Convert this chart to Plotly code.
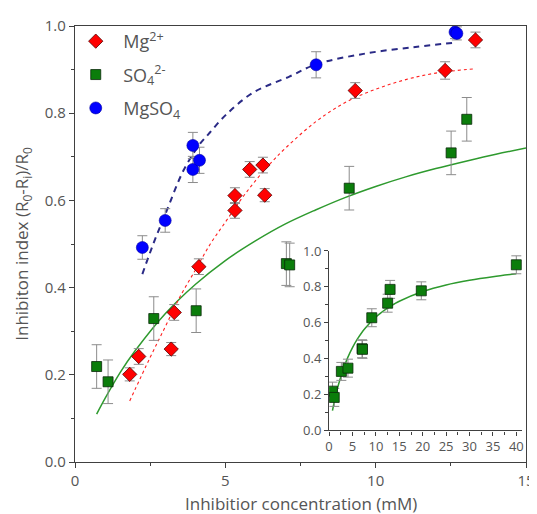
import plotly.graph_objects as go

# ---- data: Mg2+ ----
mg_x = [1.82, 2.12, 3.2, 3.3, 4.12, 5.32, 5.32, 5.81, 6.25, 6.31, 9.32, 12.31, 13.32]
mg_y = [0.201, 0.242, 0.259, 0.343, 0.448, 0.611, 0.577, 0.671, 0.681, 0.612, 0.852, 0.898, 0.968]
mg_err = [0.015, 0.018, 0.015, 0.018, 0.018, 0.018, 0.018, 0.018, 0.018, 0.015, 0.018, 0.02, 0.018]

# ---- data: SO4 2- ----
so4_x = [0.72, 1.1, 2.62, 4.03, 7.03, 7.14, 9.12, 12.51, 13.03]
so4_y = [0.219, 0.184, 0.329, 0.347, 0.455, 0.452, 0.628, 0.709, 0.786]
so4_err = [0.05, 0.05, 0.05, 0.05, 0.05, 0.05, 0.05, 0.05, 0.05]
so4_extra_x = [19.7, 40.0]
so4_extra_y = [0.778, 0.923]
so4_extra_err = [0.05, 0.05]

# ---- data: MgSO4 ----
mgso4_x = [2.24, 3.0, 3.92, 3.92, 4.14, 8.02, 12.64, 12.7]
mgso4_y = [0.492, 0.554, 0.726, 0.671, 0.692, 0.911, 0.986, 0.983]
mgso4_err = [0.027, 0.027, 0.03, 0.03, 0.03, 0.03, 0.015, 0.015]

# ---- fitted curves ----
fit_mg_x = [1.82, 2.5, 3.0, 3.5, 4.0, 4.5, 5.0, 5.5, 6.0, 6.5, 7.0, 8.0, 9.0, 10.0, 11.0, 12.0, 13.32]
fit_mg_y = [0.14, 0.24, 0.31, 0.38, 0.44, 0.50, 0.55, 0.60, 0.645, 0.685, 0.72, 0.78, 0.825, 0.855, 0.877, 0.892, 0.902]

fit_so4_x = [0.72, 1, 1.5, 2, 3, 4, 5, 6, 7, 8, 9, 10, 11, 12, 13, 14, 15]
fit_so4_y = [0.110, 0.146, 0.205, 0.255, 0.340, 0.407, 0.462, 0.507, 0.546, 0.578, 0.607, 0.632, 0.654, 0.673, 0.690, 0.706, 0.720]
fit_so4_extra_x = [20, 25, 30, 35, 40]
fit_so4_extra_y = [0.774, 0.811, 0.837, 0.857, 0.873]

fit_mgso4_x = [2.24, 2.62, 3.06, 3.61, 4.16, 4.44, 5.0, 5.92, 7.13, 8.02, 9.67, 11.32, 12.64]
fit_mgso4_y = [0.431, 0.503, 0.578, 0.669, 0.73, 0.752, 0.795, 0.847, 0.884, 0.912, 0.937, 0.952, 0.962]

# ---- axis ticks / titles ----
main_xticks = [0, 5, 10, 15]
main_yticks = [0.0, 0.2, 0.4, 0.6, 0.8, 1.0]
inset_xticks = [0, 5, 10, 15, 20, 25, 30, 35, 40]
inset_yticks = [0.0, 0.2, 0.4, 0.6, 0.8, 1.0]
x_title = "Inhibitior concentration (mM)"
y_title = "Inhibiton index (R<sub>0</sub>-R<sub>i</sub>)/R<sub>0</sub>"

RED = "#ff0000"
GREEN = "#0b7d0b"
BLUE = "#0000ff"
ERRC = "#8c8c8c"
AXC = "#404040"
TXT = "#555555"
FONT = "Open Sans"

fig = go.Figure()

def err(vals):
    return dict(type="data", array=vals, visible=True, color=ERRC, thickness=1, width=5)

# fit curves (main)
fig.add_trace(go.Scatter(x=fit_so4_x, y=fit_so4_y, mode="lines", line=dict(color="#2e9a2e", width=1.5, shape="spline"), showlegend=False, hoverinfo="skip"))
fig.add_trace(go.Scatter(x=fit_mg_x, y=fit_mg_y, mode="lines", line=dict(color="#ff2020", width=1.1, dash="dot", shape="spline"), showlegend=False, hoverinfo="skip"))
fig.add_trace(go.Scatter(x=fit_mgso4_x, y=fit_mgso4_y, mode="lines", line=dict(color="#2a2a86", width=2, dash="6px,5px", shape="spline"), showlegend=False, hoverinfo="skip"))

# markers (main)
fig.add_trace(go.Scatter(x=mg_x, y=mg_y, error_y=err(mg_err), mode="markers", name="Mg<sup>2+</sup>", legendgroup="a",
                         marker=dict(symbol="diamond", size=11, color=RED, line=dict(color="#550000", width=0.8))))
fig.add_trace(go.Scatter(x=so4_x, y=so4_y, error_y=err(so4_err), mode="markers", name="SO<sub>4</sub><sup>2-</sup>", legendgroup="b",
                         marker=dict(symbol="square", size=10, color=GREEN, line=dict(color="#0a2a0a", width=0.8))))
fig.add_trace(go.Scatter(x=mgso4_x, y=mgso4_y, error_y=err(mgso4_err), mode="markers", name="MgSO<sub>4</sub>", legendgroup="c",
                         marker=dict(symbol="circle", size=12, color=BLUE, line=dict(color="#0000a0", width=0.6))))

# inset
fig.add_trace(go.Scatter(x=fit_so4_x + fit_so4_extra_x, y=fit_so4_y + fit_so4_extra_y, mode="lines",
                         line=dict(color="#2e9a2e", width=1.5, shape="spline"), xaxis="x2", yaxis="y2",
                         showlegend=False, hoverinfo="skip"))
fig.add_trace(go.Scatter(x=so4_x + so4_extra_x, y=so4_y + so4_extra_y, error_y=err(so4_err + so4_extra_err),
                         mode="markers", xaxis="x2", yaxis="y2", showlegend=False,
                         marker=dict(symbol="square", size=10, color=GREEN, line=dict(color="#0a2a0a", width=0.8))))

fig.add_annotation(text=x_title, xref="paper", yref="paper", x=0.5, y=-0.096, xanchor="center", yanchor="middle",
                   showarrow=False, font=dict(family=FONT, size=17, color=TXT))

fig.update_layout(
    width=529, height=506,
    margin=dict(l=66.5, r=9, t=12, b=52),
    paper_bgcolor="white", plot_bgcolor="white",
    font=dict(family=FONT, color=TXT, size=14),
    showlegend=True,
    legend=dict(x=-0.015, y=1.007, xanchor="left", yanchor="top", bgcolor="rgba(0,0,0,0)",
                font=dict(family=FONT, size=18, color=TXT), itemwidth=45, tracegroupgap=7),
    xaxis=dict(range=[0, 15], tickvals=main_xticks, ticks="outside", ticklen=5, tickcolor=AXC, automargin=False,
               showline=True, linecolor=AXC, linewidth=1.2, mirror=True, showgrid=False, zeroline=False,
               minor=dict(ticks="outside", ticklen=3, dtick=2.5, tickcolor=AXC, showgrid=False),
               tickfont=dict(size=15, color=TXT)),
    yaxis=dict(range=[0, 1.0], tickvals=main_yticks, tickformat=".1f", ticks="outside", ticklen=5, tickcolor=AXC,
               automargin=False,
               showline=True, linecolor=AXC, linewidth=1.2, mirror=True, showgrid=False, zeroline=False,
               minor=dict(ticks="outside", ticklen=3, dtick=0.1, tickcolor=AXC, showgrid=False),
               tickfont=dict(size=15, color=TXT),
               title=dict(text=y_title, font=dict(size=17, color=TXT), standoff=11)),
    xaxis2=dict(domain=[0.5634, 0.991], anchor="y2", range=[0, 41.2], tickvals=inset_xticks, ticks="outside",
                ticklen=4, tickcolor=AXC, showline=True, linecolor=AXC, linewidth=1.2, showgrid=False, zeroline=False,
                minor=dict(ticks="outside", ticklen=3, dtick=2.5, tickcolor=AXC, showgrid=False),
                tickfont=dict(size=13, color=TXT)),
    yaxis2=dict(domain=[0.0724, 0.484], anchor="x2", range=[0, 1.0], tickvals=inset_yticks, tickformat=".1f",
                ticks="outside", ticklen=4, tickcolor=AXC, showline=True, linecolor=AXC, linewidth=1.2,
                showgrid=False, zeroline=False,
                minor=dict(ticks="outside", ticklen=3, dtick=0.1, tickcolor=AXC, showgrid=False),
                tickfont=dict(size=13, color=TXT)),
)

fig.write_html("out.html")
